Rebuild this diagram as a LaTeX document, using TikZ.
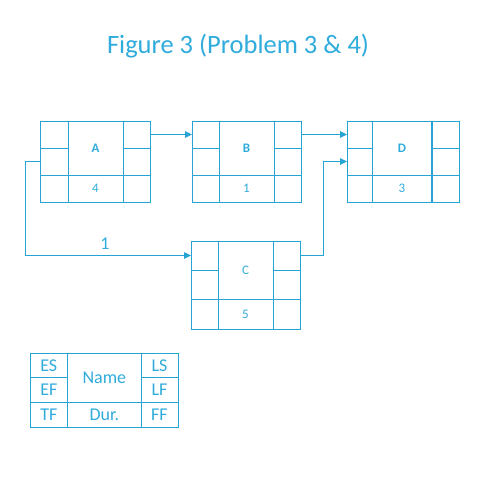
\documentclass[tikz,border=0pt]{standalone}
\usepackage{fontspec}
\setmainfont{Carlito}
\usetikzlibrary{arrows.meta}
\definecolor{cy}{RGB}{36,164,212}
\definecolor{cyt}{RGB}{48,172,220}
\newcommand\actbox[9]{%
  % #1 name, #2..#5 x0..x3, #6..#9 y0..y3
  \node[frame, anchor=north west, minimum width={(#5-#2)*1pt}, minimum height={(#9-#6)*1pt}] (#1) at (#2,#6) {};
  \draw[grid] (#3,#6) -- (#3,#9) (#4,#6) -- (#4,#9)
    (#2,#7) -- (#3,#7) (#4,#7) -- (#5,#7) (#2,#8) -- (#5,#8);
}
\begin{document}
\begin{tikzpicture}[x=1pt,y=-1pt,
  frame/.style={draw=cy, line width=0.9pt, inner sep=0pt, outer sep=0pt},
  grid/.style={draw=cy, line width=0.9pt},
  arr/.style={draw=cy, line width=0.9pt, -{Triangle[length=7pt,width=6.5pt]}},
  lab/.style={text=cyt, font=\fontsize{13}{15}\selectfont\bfseries, inner sep=0pt},
  labn/.style={text=cyt, font=\fontsize{13}{15}\selectfont, inner sep=0pt},
  dur/.style={text=cyt, font=\fontsize{13}{15}\selectfont, inner sep=0pt},
  leg/.style={text=cyt, font=\fontsize{18}{20}\selectfont, inner sep=0pt},
]
\useasboundingbox (0,0) rectangle (480,480);
\fill[white] (0,0) rectangle (480,480);

\node[text=cyt, font=\fontsize{26.5}{30}\selectfont, inner sep=0pt] (title) at (238,46) {Figure 3 (Problem 3 \& 4)};

\actbox{A}{40}{68}{123}{150}{121}{148}{175}{202}
\actbox{B}{192}{219}{274}{301}{121}{148}{175}{202}
\actbox{D}{347}{372}{432}{459}{121}{148}{175}{202}
\actbox{C}{191}{218}{273}{300}{241}{270}{299}{329}
\draw[cy, line width=1.7pt] (432,121) -- (432,202);

\node[lab] (nA) at (95.5,148) {A};
\node[dur] (dA) at (95.5,188.5) {4};
\node[lab] (nB) at (246.5,148) {B};
\node[dur] (dB) at (246.5,188.5) {1};
\node[lab] (nD) at (402,148) {D};
\node[dur] (dD) at (402,188.5) {3};
\node[labn] (nC) at (245.5,270) {C};
\node[dur] (dC) at (245.5,314) {5};

\draw[arr] ([yshift=-13.5pt]A.north east) -- ([yshift=-13.5pt]B.north west);
\draw[arr] ([yshift=-13.5pt]B.north east) -- ([yshift=-13.5pt]D.north west);
\draw[arr] (A.west) -- ++(-15,0) |- ([yshift=-14.5pt]C.north west);
\draw[arr] ([yshift=-14.5pt]C.north east) -- ++(23,0) |- (D.west);
\node[text=cyt, font=\fontsize{18}{20}\selectfont, inner sep=0pt] (one) at (105,244) {1};

% legend
\actbox{L}{30}{67.7}{141}{178}{353}{377.5}{402}{427}
\node[leg] (lES) at (48.8,365.5) {ES};
\node[leg] (lEF) at (48.8,390) {EF};
\node[leg] (lTF) at (48.8,414.5) {TF};
\node[leg] (lLS) at (159.5,365.5) {LS};
\node[leg] (lLF) at (159.5,390) {LF};
\node[leg] (lFF) at (159.5,414.5) {FF};
\node[leg] (lName) at (104.3,377.5) {Name};
\node[leg] (lDur) at (104.3,414.5) {Dur.};
\end{tikzpicture}
\end{document}
